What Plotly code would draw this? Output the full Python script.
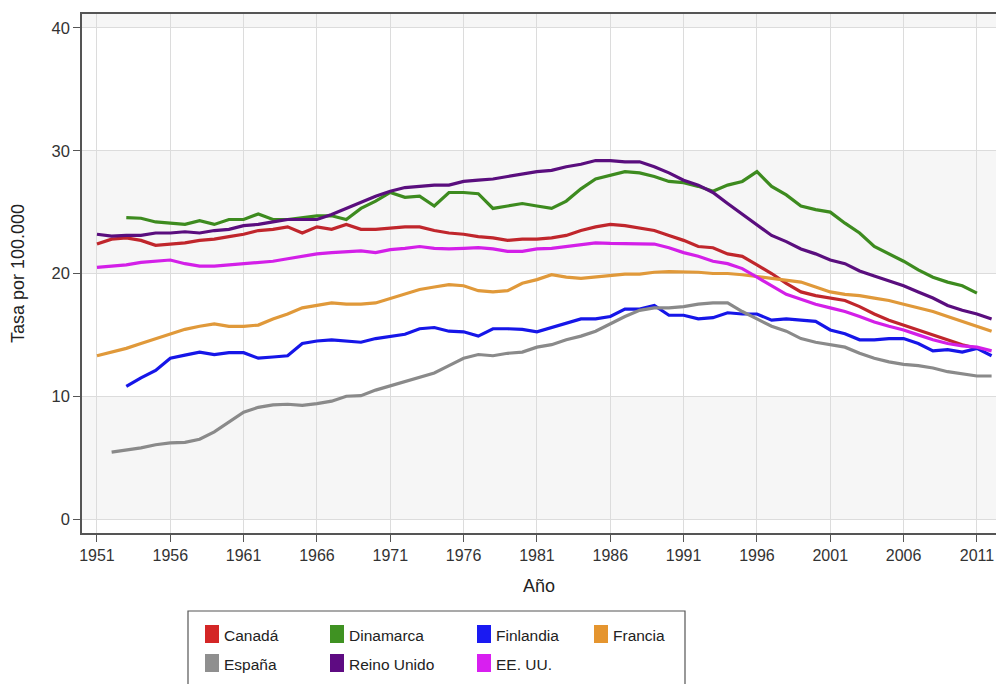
import plotly.graph_objects as go

years = list(range(1951, 2013))

canada = [22.4, 22.8, 22.9, 22.7, 22.3, 22.4, 22.5, 22.7, 22.8, 23.0,
          23.2, 23.5, 23.6, 23.8, 23.3, 23.8, 23.6, 24.0, 23.6, 23.6,
          23.7, 23.8, 23.8, 23.5, 23.3, 23.2, 23.0, 22.9, 22.7, 22.8,
          22.8, 22.9, 23.1, 23.5, 23.8, 24.0, 23.9, 23.7, 23.5, 23.1,
          22.7, 22.2, 22.1, 21.6, 21.4, 20.7, 20.0, 19.2, 18.5, 18.2,
          18.0, 17.8, 17.3, 16.7, 16.2, 15.8, 15.4, 15.0, 14.6, 14.2,
          13.9, None]
dinamarca = [None, None, 24.55, 24.5, 24.2, 24.1, 24.0, 24.3, 24.0, 24.4,
             24.4, 24.85, 24.4, 24.4, 24.55, 24.7, 24.7, 24.4, 25.3, 25.9,
             26.6, 26.2, 26.3, 25.5, 26.6, 26.6, 26.5, 25.3, 25.5, 25.7,
             25.5, 25.3, 25.9, 26.9, 27.7, 28.0, 28.3, 28.2, 27.9, 27.5,
             27.4, 27.1, 26.7, 27.2, 27.5, 28.3, 27.1, 26.4, 25.5, 25.2,
             25.0, 24.1, 23.3, 22.2, 21.6, 21.0, 20.3, 19.7, 19.3, 19.0,
             18.4, None]
finlandia = [None, None, 10.8, 11.5, 12.1, 13.1, 13.35, 13.6, 13.4, 13.55,
             13.55, 13.1, 13.2, 13.3, 14.3, 14.5, 14.6, 14.5, 14.4, 14.7,
             14.85, 15.05, 15.5, 15.6, 15.3, 15.25, 14.9, 15.5, 15.5, 15.45,
             15.25, 15.6, 16.0, 16.3, 16.3, 16.5, 17.1, 17.1, 17.4, 16.6,
             16.6, 16.3, 16.4, 16.8, 16.7, 16.7, 16.2, 16.3, 16.2, 16.1,
             15.4, 15.1, 14.6, 14.6, 14.7, 14.7, 14.3, 13.7, 13.8, 13.6,
             13.9, 13.3]
francia = [13.3, 13.6, 13.9, 14.3, 14.7, 15.1, 15.45, 15.7, 15.9, 15.7,
           15.7, 15.8, 16.3, 16.7, 17.2, 17.4, 17.6, 17.5, 17.5, 17.6,
           17.95, 18.3, 18.7, 18.9, 19.1, 19.0, 18.6, 18.5, 18.6, 19.2,
           19.5, 19.9, 19.7, 19.6, 19.7, 19.8, 19.95, 19.95, 20.1, 20.15,
           20.15, 20.1, 20.0, 20.0, 19.9, 19.75, 19.6, 19.5, 19.3, 18.9,
           18.5, 18.3, 18.2, 18.0, 17.8, 17.5, 17.2, 16.9, 16.5, 16.1,
           15.7, 15.3]
espana = [None, 5.45, 5.6, 5.8, 6.05, 6.2, 6.25, 6.5, 7.1, 7.9,
          8.7, 9.1, 9.3, 9.35, 9.25, 9.4, 9.6, 10.0, 10.05, 10.5,
          10.85, 11.2, 11.5, 11.9, 12.5, 13.1, 13.4, 13.3, 13.5, 13.6,
          14.0, 14.2, 14.6, 14.9, 15.3, 15.9, 16.5, 17.0, 17.2, 17.2,
          17.3, 17.5, 17.6, 17.6, 16.9, 16.3, 15.7, 15.3, 14.7, 14.4,
          14.2, 14.0, 13.5, 13.1, 12.8, 12.6, 12.5, 12.3, 12.0, 11.8,
          11.65, 11.65]
reino_unido = [23.2, 23.05, 23.1, 23.1, 23.3, 23.3, 23.4, 23.3, 23.5, 23.6,
               23.9, 24.0, 24.2, 24.4, 24.4, 24.4, 24.8, 25.3, 25.8, 26.3,
               26.7, 27.0, 27.1, 27.2, 27.2, 27.5, 27.6, 27.7, 27.9, 28.1,
               28.3, 28.4, 28.7, 28.9, 29.2, 29.2, 29.1, 29.1, 28.7, 28.2,
               27.6, 27.2, 26.6, 25.7, 24.85, 24.0, 23.1, 22.6, 22.0, 21.6,
               21.1, 20.8, 20.2, 19.8, 19.4, 19.0, 18.5, 18.0, 17.4, 17.0,
               16.7, 16.3]
eeuu = [20.5, 20.6, 20.7, 20.9, 21.0, 21.1, 20.8, 20.6, 20.6, 20.7,
        20.8, 20.9, 21.0, 21.2, 21.4, 21.6, 21.7, 21.8, 21.85, 21.7,
        21.95, 22.05, 22.2, 22.05, 22.0, 22.05, 22.1, 22.0, 21.8, 21.8,
        22.0, 22.05, 22.2, 22.4, 22.5, 22.45, 22.45, 22.45, 22.4, 22.1,
        21.7, 21.4, 21.0, 20.8, 20.4, 19.7, 19.0, 18.3, 17.9, 17.5,
        17.2, 16.9, 16.5, 16.05, 15.7, 15.4, 15.0, 14.6, 14.3, 14.1,
        14.0, 13.7]

series_names = ["Canadá", "Dinamarca", "Finlandia", "Francia",
                "España", "Reino Unido", "EE. UU."]
series_values = [canada, dinamarca, finlandia, francia, espana, reino_unido, eeuu]
line_colors = ["#c0262c", "#3d8b1f", "#1616e8", "#e0993a",
               "#8a8a8a", "#5a0e7e", "#d31fe8"]
swatch_colors = ["#d42626", "#3f9222", "#1a1af2", "#e5952f",
                 "#8f8f8f", "#5e0b82", "#d81ff0"]

x_ticks = list(range(1951, 2012, 5))
y_ticks = [0, 10, 20, 30, 40]

W, H = 996, 684
L, R, T, B = 82, 0, 14, 151
PW, PH = W - L - R, H - T - B


def px(xp):
    return (xp - L) / PW


def py(yp):
    return (H - B - yp) / PH


FONT = "Liberation Sans, Arial, Helvetica, sans-serif"

fig = go.Figure()
for name, vals, col in zip(series_names, series_values, line_colors):
    fig.add_trace(go.Scatter(x=years, y=vals, mode="lines", name=name,
                             line=dict(color=col, width=3.2),
                             connectgaps=False, showlegend=False,
                             hoverinfo="skip"))

shapes = []
# alternating horizontal bands
for y0, y1 in [(0, 10), (20, 30), (40, 45)]:
    shapes.append(dict(type="rect", xref="paper", yref="y", x0=0, x1=1,
                       y0=y0, y1=y1, fillcolor="#f6f6f6", line_width=0,
                       layer="below"))

# manual legend box
shapes.append(dict(type="rect", xref="paper", yref="paper",
                   x0=px(188), x1=px(685), y0=py(720), y1=py(611),
                   line=dict(color="#555555", width=1.2),
                   fillcolor="rgba(0,0,0,0)"))

annotations = []
col_x = [205, 330, 477, 594]
row_y = [634, 663]
for i, (name, col) in enumerate(zip(series_names, swatch_colors)):
    r, c = divmod(i, 4)
    sx, sy = col_x[c], row_y[r]
    shapes.append(dict(type="rect", xref="paper", yref="paper",
                       x0=px(sx), x1=px(sx + 14), y0=py(sy + 9), y1=py(sy - 9),
                       fillcolor=col, line_width=0))
    annotations.append(dict(text=name, xref="paper", yref="paper",
                            x=px(sx + 17), y=py(sy + 1), xanchor="left",
                            yanchor="middle", showarrow=False,
                            font=dict(family=FONT, size=15.5, color="#222222")))

annotations.append(dict(text="Año", xref="paper", yref="paper",
                        x=px(539), y=py(586), xanchor="center", yanchor="middle",
                        showarrow=False,
                        font=dict(family=FONT, size=18, color="#222222")))
annotations.append(dict(text="Tasa por 100.000", xref="paper", yref="paper",
                        x=px(18), y=py(274), xanchor="center", yanchor="middle",
                        textangle=-90, showarrow=False,
                        font=dict(family=FONT, size=18, color="#222222")))

fig.update_layout(
    width=W, height=H,
    margin=dict(l=L, r=R, t=T, b=B, pad=0),
    paper_bgcolor="white", plot_bgcolor="white",
    shapes=shapes, annotations=annotations,
    showlegend=False,
    hovermode=False,
    font=dict(family=FONT, size=16, color="#333333"),
)
fig.update_xaxes(
    range=[1949.98, 2012.3], tickmode="array", tickvals=x_ticks,
    ticktext=[str(t) for t in x_ticks],
    showgrid=True, gridcolor="#dcdcdc", gridwidth=1,
    showline=True, linecolor="#555555", linewidth=1.6, mirror=True,
    ticks="outside", ticklen=7, tickcolor="#555555", tickwidth=1.3,
    zeroline=False, tickfont=dict(family=FONT, size=16, color="#333333"),
)
fig.update_yaxes(
    range=[-1.14, 41.14], tickmode="array", tickvals=y_ticks,
    ticktext=[str(t) for t in y_ticks],
    showgrid=True, gridcolor="#dcdcdc", gridwidth=1,
    showline=True, linecolor="#555555", linewidth=1.6,
    ticks="outside", ticklen=7, tickcolor="#555555", tickwidth=1.3,
    zeroline=False, tickfont=dict(family=FONT, size=16.5, color="#333333"),
)

fig.write_html(
    "out.html",
    config={"displayModeBar": False},
    post_script="document.body.style.margin='0px';"
                "document.body.style.overflow='hidden';",
)
